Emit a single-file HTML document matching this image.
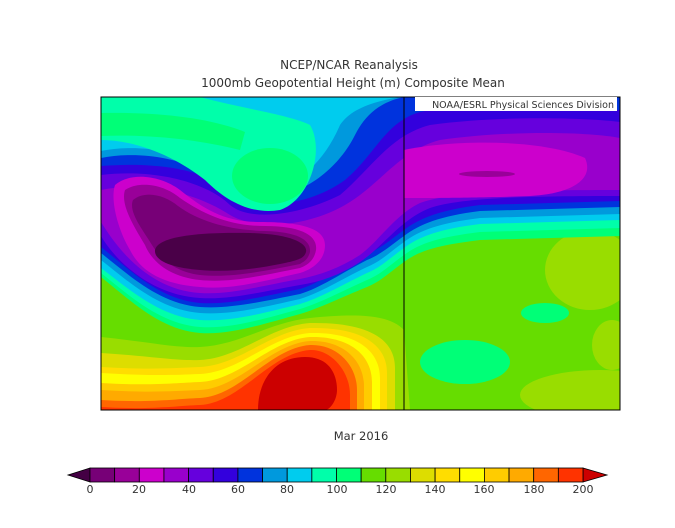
<!DOCTYPE html>
<html><head><style>
body{margin:0;background:#fff;}
svg text{font-family:"DejaVu Sans","Liberation Sans",sans-serif;fill:#333;}
</style></head><body>
<svg width="675" height="523" viewBox="0 0 675 523" xmlns="http://www.w3.org/2000/svg">
<rect width="675" height="523" fill="#fff"/>
<text x="349" y="69" font-size="12" text-anchor="middle">NCEP/NCAR Reanalysis</text>
<text x="353" y="87" font-size="12" text-anchor="middle">1000mb Geopotential Height (m) Composite Mean</text>
<defs><clipPath id="c"><rect x="101" y="97" width="519" height="313"/></clipPath></defs>
<g clip-path="url(#c)">
<rect x="101" y="97" width="519" height="313" fill="#66dd00"/>
<ellipse cx="590" cy="270" rx="45" ry="40" fill="#99dd00"/>
<ellipse cx="600" cy="395" rx="80" ry="25" fill="#99dd00"/>
<ellipse cx="612" cy="345" rx="20" ry="25" fill="#99dd00"/>
<ellipse cx="465" cy="362" rx="45" ry="22" fill="#00ff77"/>
<ellipse cx="545" cy="313" rx="24" ry="10" fill="#00ff77"/>
<!-- band regions from top -->
<path d="M101,97 L620,97 L620,236 L480,240 C440,245 420,250 404,262 C390,272 380,282 367,287 C340,298 320,308 300,314 C260,325 230,335 200,333 C160,330 130,300 101,277 Z" fill="#00ff77"/>
<path d="M101,97 L620,97 L620,228 L480,232 C440,237 420,243 404,255 C390,265 380,275 367,280 C340,292 320,303 300,309 C260,320 230,329 200,327 C160,324 130,296 101,273 Z" fill="#00ffaa"/>
<path d="M101,97 L620,97 L620,220 L480,224 C440,229 420,236 404,248 C390,258 380,268 367,273 C340,286 320,298 300,304 C260,314 230,322 200,320 C160,317 130,290 101,268 Z" fill="#00ccee"/>
<path d="M101,97 L620,97 L620,214 L480,218 C440,223 420,230 404,242 C390,252 380,262 367,267 C340,280 320,293 300,299 C260,308 230,315 200,313 C160,310 130,283 101,260 Z" fill="#0099dd"/>
<path d="M101,97 L620,97 L620,207 L480,211 C440,216 420,224 404,236 C390,246 380,255 367,260 C340,274 320,288 300,294 C260,302 230,309 200,307 C160,304 130,276 101,253 Z" fill="#0033dd"/>
<path d="M101,97 L620,97 L620,201 L480,205 C440,210 420,218 404,230 C390,240 380,249 367,254 C340,268 320,283 300,289 C260,297 230,305 200,303 C160,300 130,270 101,247 Z" fill="#3300dd"/>
<!-- top features -->
<path d="M101,97 L620,97 L620,110 C560,108 450,105 420,112 C385,122 375,155 345,180 C310,205 265,210 240,195 C215,178 180,160 101,166 Z" fill="#0033dd"/>
<path d="M101,97 L404,97 C380,102 365,115 355,135 C340,165 310,192 270,198 C240,200 220,185 200,170 C170,155 130,152 101,158 Z" fill="#0099dd"/>
<path d="M101,97 L400,97 C370,102 350,110 340,125 C325,160 300,185 268,190 C240,192 220,178 200,163 C170,148 130,145 101,151 Z" fill="#00ccee"/>
<path d="M101,97 L200,97 C240,108 290,115 310,125 C325,150 310,200 280,210 C250,215 225,200 205,180 C180,160 140,140 101,140 Z" fill="#00ffaa"/>
<path d="M101,113 C160,112 210,118 245,132 L240,150 C200,140 150,134 101,136 Z" fill="#00ff77"/>
<ellipse cx="270" cy="176" rx="38" ry="28" fill="#00ff77"/>
<!-- low -->
<path d="M101,175 C160,168 210,185 230,205 C250,222 300,215 340,195 C370,170 390,135 430,125 C500,115 590,118 620,122 L620,196 C520,196 460,198 430,208 C400,220 385,245 360,262 C340,275 320,282 300,285 C260,292 230,300 200,298 C150,295 115,260 101,236 Z" fill="#6600dd"/>
<path d="M101,190 C150,180 200,195 230,215 C260,232 310,225 345,205 C380,185 400,150 440,140 C510,130 590,132 620,138 L620,190 C520,190 450,192 420,203 C395,215 380,240 360,255 C340,268 320,275 300,279 C260,286 230,295 200,293 C150,290 118,250 101,222 Z" fill="#9900cc"/>
<path d="M115,185 C130,172 160,175 180,190 C205,210 225,222 260,222 C300,222 325,228 325,245 C325,262 310,270 300,273 C260,282 230,290 200,287 C160,284 140,270 130,250 C118,230 110,200 115,185 Z" fill="#cc00cc"/>
<path d="M404,150 C450,140 540,138 585,158 C595,180 570,194 530,196 C480,198 420,198 404,198 Z" fill="#cc00cc"/>
<ellipse cx="487" cy="174" rx="28" ry="3" fill="#990099"/>
<path d="M125,190 C140,180 165,185 180,198 C205,215 230,226 265,226 C300,226 318,235 316,250 C314,262 305,266 300,268 C260,276 230,283 200,280 C170,277 152,262 145,245 C135,228 120,205 125,190 Z" fill="#990099"/>
<path d="M133,200 C145,190 165,195 178,206 C200,222 230,230 265,231 C298,232 311,240 310,252 C308,260 303,262 300,264 C260,272 230,278 200,275 C175,272 160,258 152,245 C143,230 128,212 133,200 Z" fill="#770077"/>
<path d="M155,250 C158,236 200,232 250,233 C290,234 308,243 306,252 C304,258 300,260 280,264 C250,270 225,272 200,270 C175,268 154,262 155,250 Z" fill="#4a0048"/>
<!-- high -->
<path d="M101,337 C150,342 175,348 200,347 C240,345 270,322 310,318 C360,313 390,315 404,330 L410,410 L101,410 Z" fill="#99dd00"/>
<path d="M101,353 C150,356 175,361 200,360 C240,358 270,326 310,323 C375,322 395,343 395,368 L395,410 L101,410 Z" fill="#dddd00"/>
<path d="M101,367 C150,370 175,368 200,367 C240,365 270,331 310,328 C367,327 387,348 387,373 L387,410 L101,410 Z" fill="#ffdd00"/>
<path d="M101,373 C150,376 175,375 200,374 C240,372 270,336 310,333 C360,332 380,353 380,378 L380,410 L101,410 Z" fill="#ffff00"/>
<path d="M101,383 C150,386 175,383 200,382 C240,380 270,340 310,337 C352,336 372,357 372,382 L372,410 L101,410 Z" fill="#ffcc00"/>
<path d="M101,390 C150,393 175,391 200,390 C240,388 270,344 310,341 C344,340 364,361 364,386 L364,410 L101,410 Z" fill="#ffaa00"/>
<path d="M101,400 C150,403 175,399 200,398 C240,396 270,348 310,345 C337,344 357,365 357,390 L357,410 L101,410 Z" fill="#ff6600"/>
<path d="M101,407 C150,410 175,406 200,405 C240,403 270,353 310,350 C330,349 350,370 350,395 L350,410 L101,410 Z" fill="#ff3300"/>
<path d="M258,410 C258,380 275,357 305,357 C330,357 337,375 337,390 C337,400 330,410 325,410 Z" fill="#cc0000"/>
</g>
<rect x="101" y="97" width="519" height="313" fill="none" stroke="#000" stroke-width="1"/>
<line x1="404" y1="97" x2="404" y2="410" stroke="#000" stroke-width="1"/>
<rect x="415" y="97" width="202" height="14" fill="#fff"/>
<text x="614" y="108" font-size="9.5" text-anchor="end">NOAA/ESRL Physical Sciences Division</text>
<text x="361" y="440" font-size="11.5" text-anchor="middle">Mar 2016</text>
<g stroke="#000" stroke-width="0.8">
<polygon points="68,475 90,468 90,482" fill="#440044"/>
<polygon points="583,468 607,475 583,482" fill="#cc0000"/>
<rect x="90" y="468" width="24.65" height="14" fill="#770077"/>
<rect x="114.65" y="468" width="24.65" height="14" fill="#990099"/>
<rect x="139.3" y="468" width="24.65" height="14" fill="#cc00cc"/>
<rect x="163.95" y="468" width="24.65" height="14" fill="#9900cc"/>
<rect x="188.6" y="468" width="24.65" height="14" fill="#6600dd"/>
<rect x="213.25" y="468" width="24.65" height="14" fill="#3300dd"/>
<rect x="237.9" y="468" width="24.65" height="14" fill="#0033dd"/>
<rect x="262.55" y="468" width="24.65" height="14" fill="#0099dd"/>
<rect x="287.2" y="468" width="24.65" height="14" fill="#00ccee"/>
<rect x="311.85" y="468" width="24.65" height="14" fill="#00ffaa"/>
<rect x="336.5" y="468" width="24.65" height="14" fill="#00ff77"/>
<rect x="361.15" y="468" width="24.65" height="14" fill="#66dd00"/>
<rect x="385.8" y="468" width="24.65" height="14" fill="#99dd00"/>
<rect x="410.45" y="468" width="24.65" height="14" fill="#dddd00"/>
<rect x="435.1" y="468" width="24.65" height="14" fill="#ffdd00"/>
<rect x="459.75" y="468" width="24.65" height="14" fill="#ffff00"/>
<rect x="484.4" y="468" width="24.65" height="14" fill="#ffcc00"/>
<rect x="509.05" y="468" width="24.65" height="14" fill="#ffaa00"/>
<rect x="533.7" y="468" width="24.65" height="14" fill="#ff6600"/>
<rect x="558.35" y="468" width="24.65" height="14" fill="#ff3300"/>
</g>
<g font-size="11" text-anchor="middle">
<text x="90" y="493">0</text><text x="139" y="493">20</text><text x="189" y="493">40</text>
<text x="238" y="493">60</text><text x="287" y="493">80</text><text x="337" y="493">100</text>
<text x="386" y="493">120</text><text x="435" y="493">140</text><text x="484" y="493">160</text>
<text x="534" y="493">180</text><text x="583" y="493">200</text>
</g>
</svg>
</body></html>
